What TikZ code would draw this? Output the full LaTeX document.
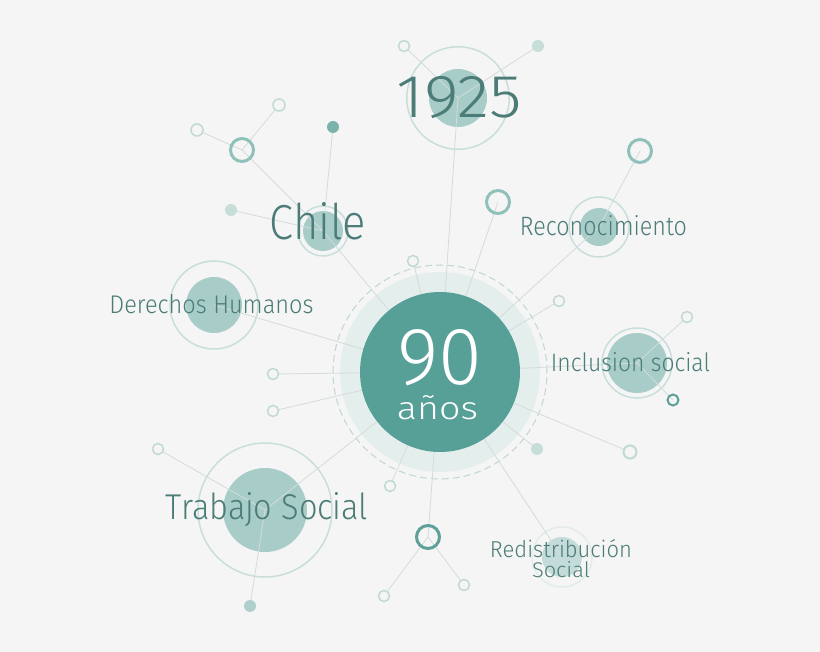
\documentclass[tikz,border=0pt]{standalone}
\usepackage{fontspec}
\IfFontExistsTF{FiraSans-Light.otf}{\setmainfont{FiraSans-Light.otf}}{%
 \IfFontExistsTF{Fira Sans Light}{\setmainfont{Fira Sans Light}}{%
  \IfFontExistsTF{Lato Light}{\setmainfont{Lato Light}}{\setmainfont{Fira Sans}}}}
\usepackage{graphicx}
\definecolor{bgc}{HTML}{F5F5F5}
\definecolor{haloc}{HTML}{E4EEED}
\definecolor{dashc}{HTML}{BFD6D3}
\definecolor{mainc}{HTML}{56A098}
\definecolor{diskc}{HTML}{A8CCC8}
\definecolor{disklight}{HTML}{C4DCD9}
\definecolor{ringc}{HTML}{C8DEDB}
\definecolor{ringfaint}{HTML}{E2ECEB}
\definecolor{thickc}{HTML}{8FC0BA}
\definecolor{darkring}{HTML}{5FA098}
\definecolor{opencol}{HTML}{C0D9D5}
\definecolor{dotlight}{HTML}{C6DDDA}
\definecolor{dotdark}{HTML}{7AB2AC}
\definecolor{linkc}{HTML}{D3DCDB}
\definecolor{txtc}{HTML}{4B7C77}
\newcommand\fitwh[3]{\resizebox{#1pt}{#2pt}{#3}}
\pgfdeclarelayer{back}
\pgfdeclarelayer{mid}
\pgfsetlayers{back,mid,main}
\begin{document}
\begin{tikzpicture}[x=1pt,y=-1pt,
  disk/.style={circle, inner sep=0pt, fill=diskc, minimum size=#1},
  thinring/.style={circle, inner sep=0pt, draw=ringc, line width=1.5pt, minimum size=#1},
  thickring/.style={circle, inner sep=0pt, draw=thickc, line width=3pt, minimum size=#1},
  openring/.style={circle, inner sep=0pt, draw=opencol, fill=bgc, line width=1.5pt, minimum size=#1},
  dotnode/.style={circle, inner sep=0pt, fill=#1, minimum size=12pt},
  link/.style={draw=linkc, line width=0.8pt},
  lbl/.style={text=txtc, inner sep=0pt, anchor=base}]
\begin{pgfonlayer}{back}
\fill[bgc] (0,0) rectangle (820,652);
\useasboundingbox (0,0) rectangle (820,652);
\node[disk=200pt, fill=haloc] (halo) at (440,372) {};
\node[circle, inner sep=0pt, minimum size=214pt, draw=dashc, line width=1pt, dash pattern=on 7pt off 4pt] (dashring) at (440,372) {};
% satellites
\node[thinring=102.5pt] (r1925) at (458,98) {};
\node[disk=58pt] (y1925) at (458,98) {};
\node[thinring=50pt] (rchile) at (323,231) {};
\node[disk=40pt] (chile) at (323,231) {};
\node[thinring=60pt] (rrecon) at (599,227) {};
\node[disk=38pt] (recon) at (599,227) {};
\node[thinring=70pt] (rincl) at (637,363) {};
\node[disk=60pt] (incl) at (637,363) {};
\node[thinring=88pt] (rdh) at (214,305) {};
\node[disk=56pt] (dh) at (214,305) {};
\node[thinring=134pt] (rtrab) at (265,510) {};
\node[disk=84pt] (trab) at (265,510) {};
\node[thinring=60pt, draw=ringfaint] (rredis) at (562,557) {};
\node[disk=40pt, fill=disklight] (redis) at (562,557) {};
\end{pgfonlayer}
% thick rings
\node[thickring=23pt] (ra) at (242,150) {};
\node[thickring=23pt] (rb) at (498,202) {};
\node[thickring=23pt] (rc) at (640,151) {};
\node[thickring=11pt, draw=darkring, line width=2pt] (rd) at (673,400) {};
\node[thickring=23pt, draw=darkring] (re) at (428,537) {};
% small open circles
\node[openring=11pt] (o1) at (404,46) {};
\node[openring=12pt] (o2) at (279,105) {};
\node[openring=12pt] (o3) at (197,130) {};
\node[openring=11pt] (o4) at (413,261) {};
\node[openring=11pt] (o5) at (559,301) {};
\node[openring=11pt] (o6) at (687,317) {};
\node[openring=13pt, line width=2pt] (o7) at (630,452) {};
\node[openring=11pt] (o8) at (384,596) {};
\node[openring=11pt] (o9) at (464,585) {};
\node[openring=11pt] (o10) at (390,486) {};
\node[openring=11pt] (o11) at (158,449) {};
\node[openring=11pt] (o12) at (273,374) {};
\node[openring=11pt] (o13) at (273,411) {};
% dots
\node[dotnode=dotlight] (d1) at (538,46) {};
\node[dotnode=dotdark] (d2) at (333,127) {};
\node[dotnode=dotlight] (d3) at (231,210) {};
\node[dotnode=dotlight] (d4) at (537,449) {};
\node[dotnode=diskc!80!dotlight] (d5) at (250,606) {};
% main disk
\node[disk=160pt, fill=mainc] (m) at (440,372) {};
% links
\begin{pgfonlayer}{mid}
\draw[link] (y1925.center) -- (o1.center);
\draw[link] (y1925.center) -- (d1.center);
\draw[link] (y1925.center) -- (m.center);
\draw[link] (ra.center) -- (chile.center) -- (m.center);
\draw[link] (ra.center) -- (o2.center);
\draw[link] (ra.center) -- (o3.center);
\draw[link] (d2.center) -- (chile.center);
\draw[link] (d3.center) -- (chile.center);
\draw[link] (rb.center) -- (m.center);
\draw[link] (o4.center) -- (m.center);
\draw[link] (rc.center) -- (recon.center) -- (m.center);
\draw[link] (o5.center) -- (m.center);
\draw[link] (o6.center) -- (incl.center) -- (rd.center);
\draw[link] (incl.center) -- (m.center);
\draw[link] (o7.center) -- (m.center);
\draw[link] (d4.center) -- (m.center);
\draw[link] (redis.center) -- (m.center);
\draw[link] (re.center) -- (m.center);
\draw[link] (re.center) -- (o8.center);
\draw[link] (re.center) -- (o9.center);
\draw[link] (o10.center) -- (m.center);
\draw[link] (o11.center) -- (trab.center) -- (d5.center);
\draw[link] (trab.center) -- (m.center);
\draw[link] (o12.center) -- (m.center);
\draw[link] (o13.center) -- (m.center);
\draw[link] (dh.center) -- (m.center);
\end{pgfonlayer}
% texts
\node[lbl] (t1925) at (459.5,118) {\fitwh{125}{41}{1925}};
\node[lbl] (tchile) at (318,240) {\fitwh{96}{37}{Chile}};
\node[lbl] (trecon) at (603.5,236) {\fitwh{167}{20}{Reconocimiento}};
\node[lbl] (tdh) at (211.5,314) {\fitwh{204}{19}{Derechos Humanos}};
\node[lbl] (tincl) at (630.5,372) {\fitwh{159}{19}{Inclusion social}};
\node[lbl] (ttrab) at (267,519) {\fitwh{202}{27}{Trabajo Social}};
\node[lbl] (tredis1) at (561,557) {\fitwh{142}{18}{Redistribución}};
\node[lbl] (tredis2) at (561,577) {\fitwh{58}{16}{Social}};
\node[lbl, text=white] (t90) at (439.5,385) {\fitwh{85}{55}{90}};
\node[lbl, text=white] (tanos) at (437.5,420) {\fitwh{81}{24}{años}};
\end{tikzpicture}
\end{document}
